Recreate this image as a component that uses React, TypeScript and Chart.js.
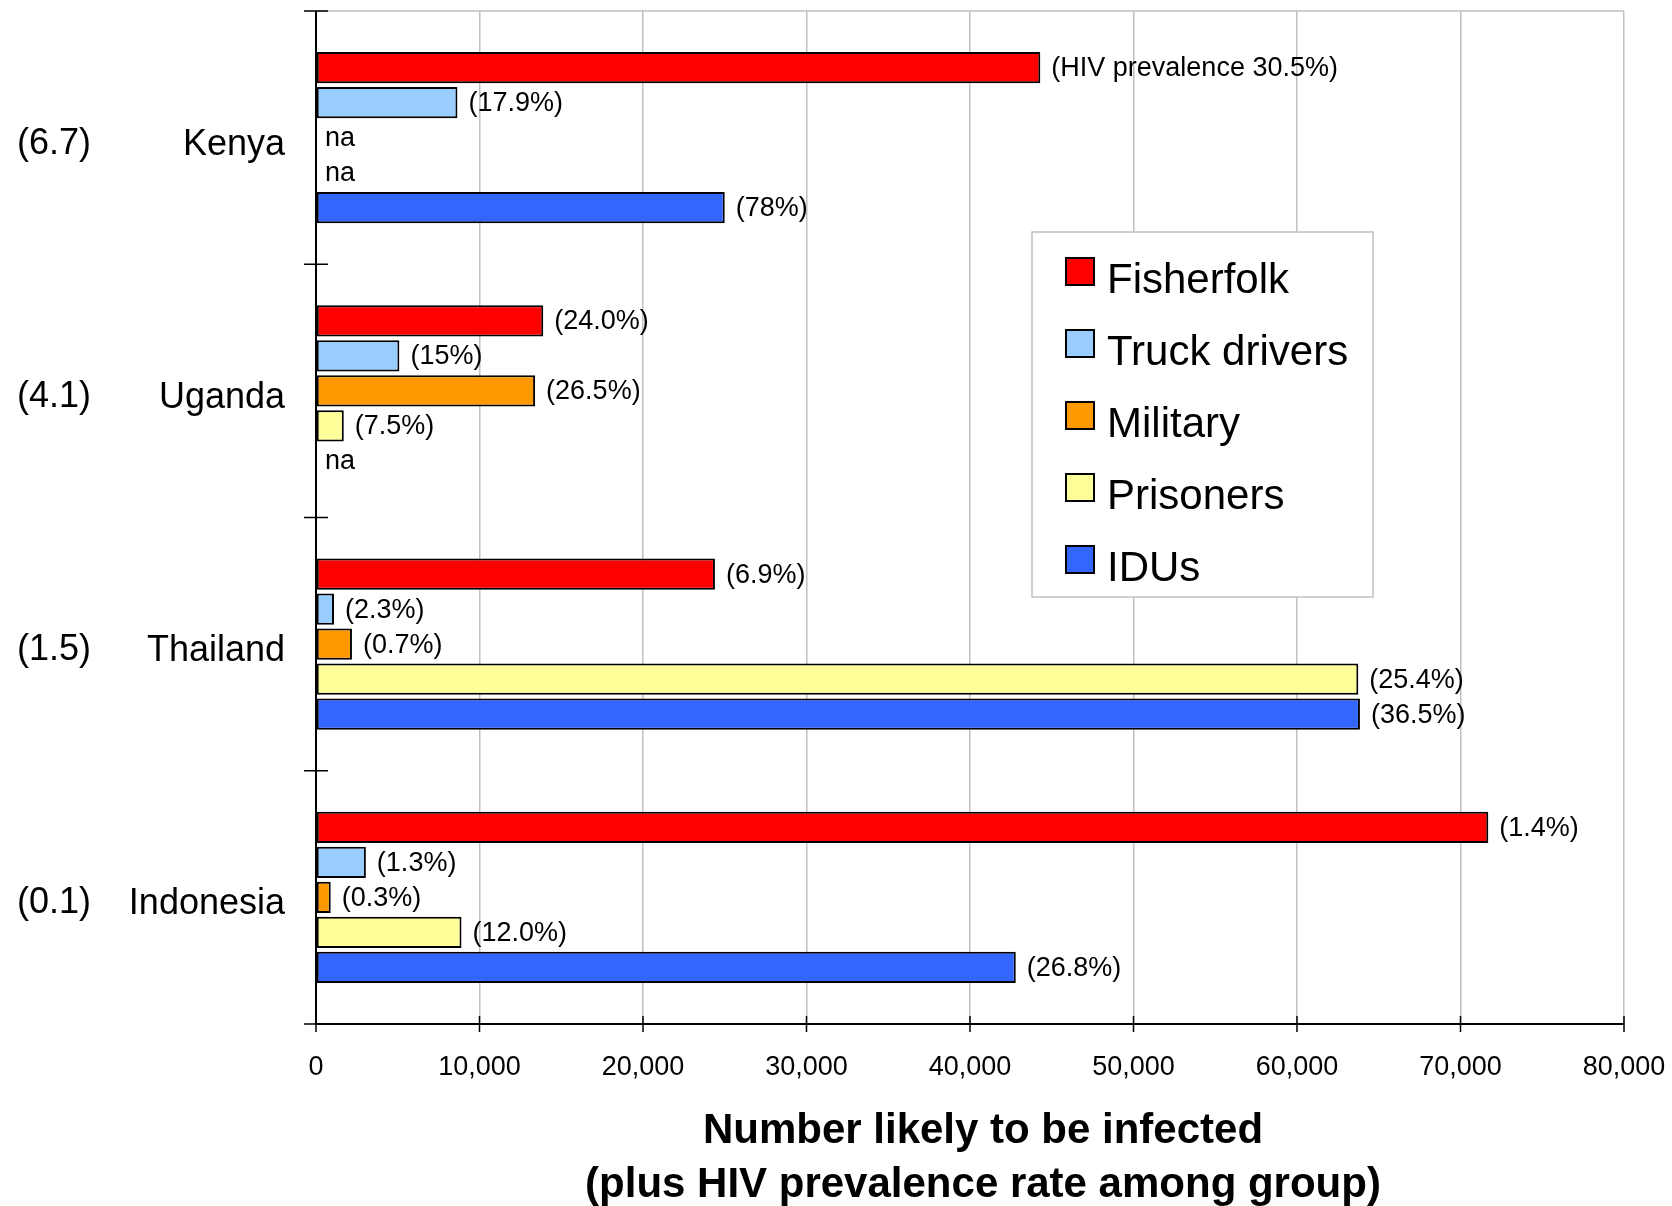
import React, { useEffect, useRef } from "react";
import { Chart, registerables } from "chart.js";

Chart.register(...registerables);

const categories = ["Kenya", "Uganda", "Thailand", "Indonesia"];
const countryPrevalence = ["(6.7)", "(4.1)", "(1.5)", "(0.1)"];

const seriesNames = ["Fisherfolk", "Truck drivers", "Military", "Prisoners", "IDUs"];
const seriesColors = ["#FF0000", "#99CCFF", "#FF9900", "#FFFF99", "#3366FF"];

const fisherfolk = [44300, 13900, 24400, 71700];
const truckDrivers = [8650, 5100, 1100, 3050];
const military = [null, 13400, 2200, 900];
const prisoners = [null, 1700, 63750, 8900];
const idus = [25000, null, 63850, 42800];

const fisherfolkLabels = ["(HIV prevalence 30.5%)", "(24.0%)", "(6.9%)", "(1.4%)"];
const truckLabels = ["(17.9%)", "(15%)", "(2.3%)", "(1.3%)"];
const militaryLabels = ["na", "(26.5%)", "(0.7%)", "(0.3%)"];
const prisonerLabels = ["na", "(7.5%)", "(25.4%)", "(12.0%)"];
const iduLabels = ["(78%)", "na", "(36.5%)", "(26.8%)"];

const xTicksMin = 0;
const xTicksMax = 80000;
const xTickStep = 10000;

const xTitle = ["Number likely to be infected", "(plus HIV prevalence rate among group)"];

const FONT = "'Liberation Sans', Arial, Helvetica, sans-serif";

const seriesValues = [fisherfolk, truckDrivers, military, prisoners, idus];
const seriesLabels = [fisherfolkLabels, truckLabels, militaryLabels, prisonerLabels, iduLabels];

const CAT_PCT = 0.691;
const BAR_PCT = 0.886;

const customPlugin = {
  id: "customDraw",
  afterDatasetsDraw(chart: any) {
    const ctx = chart.ctx;
    const area = chart.chartArea;
    const xs = chart.scales.x;
    const ys = chart.scales.y;
    ctx.save();

    // top gray border
    ctx.strokeStyle = "#c0c0c0";
    ctx.lineWidth = 1.5;
    ctx.beginPath();
    ctx.moveTo(area.left, area.top);
    ctx.lineTo(area.right, area.top);
    ctx.stroke();

    // axes
    ctx.strokeStyle = "#000";
    ctx.lineWidth = 2;
    const x0 = xs.getPixelForValue(0);
    ctx.beginPath();
    ctx.moveTo(x0, area.top);
    ctx.lineTo(x0, area.bottom);
    ctx.moveTo(area.left, area.bottom);
    ctx.lineTo(area.right, area.bottom);
    ctx.stroke();

    // x ticks (crossing)
    ctx.lineWidth = 1.5;
    ctx.beginPath();
    for (let v = xTicksMin; v <= xTicksMax; v += xTickStep) {
      const px = xs.getPixelForValue(v);
      ctx.moveTo(px, area.bottom - 8);
      ctx.lineTo(px, area.bottom + 8);
    }
    // y ticks at category boundaries
    const band = (area.bottom - area.top) / categories.length;
    for (let i = 0; i <= categories.length; i++) {
      const py = area.top + band * i;
      ctx.moveTo(x0 - 12, py);
      ctx.lineTo(x0 + 12, py);
    }
    ctx.stroke();

    // value labels
    ctx.fillStyle = "#000";
    ctx.font = `27px ${FONT}`;
    ctx.textAlign = "left";
    ctx.textBaseline = "middle";
    const slot = (band * CAT_PCT) / seriesNames.length;
    chart.data.datasets.forEach((ds: any, di: number) => {
      const meta = chart.getDatasetMeta(di);
      const labels = seriesLabels[di];
      ds.data.forEach((v: any, i: number) => {
        const el = meta.data[i];
        let cy = el && isFinite(el.y) ? el.y : NaN;
        if (!isFinite(cy)) {
          cy = ys.getPixelForValue(i) + (di - (seriesNames.length - 1) / 2) * slot;
        }
        let lx;
        if (v === null || v === undefined) {
          lx = x0 + 9;
        } else {
          lx = el.x + 11;
        }
        ctx.fillText(labels[i], lx, cy + 1);
      });
    });

    // country prevalence labels
    ctx.font = `36px ${FONT}`;
    ctx.textAlign = "center";
    categories.forEach((_, i) => {
      const py = ys.getPixelForValue(i);
      ctx.fillText(countryPrevalence[i], 54, py + 6);
    });

    // axis title
    ctx.font = `bold 42px ${FONT}`;
    ctx.textAlign = "center";
    ctx.textBaseline = "middle";
    const tx = (area.left + area.right) / 2 + 13;
    xTitle.forEach((line, i) => {
      ctx.fillText(line, tx, 1131 + i * 54);
    });

    // legend
    const lx = 1032, ly = 232, lw = 341, lh = 365;
    ctx.fillStyle = "#fff";
    ctx.fillRect(lx, ly, lw, lh);
    ctx.strokeStyle = "#c0c0c0";
    ctx.lineWidth = 1.5;
    ctx.strokeRect(lx, ly, lw, lh);
    ctx.font = `42px ${FONT}`;
    ctx.textAlign = "left";
    ctx.textBaseline = "alphabetic";
    seriesNames.forEach((name, i) => {
      const sy = 258 + i * 72;
      ctx.fillStyle = seriesColors[i];
      ctx.fillRect(1066, sy, 28, 27);
      ctx.strokeStyle = "#000";
      ctx.lineWidth = 2;
      ctx.strokeRect(1066, sy, 28, 27);
      ctx.fillStyle = "#000";
      ctx.fillText(name, 1107, sy + 35);
    });

    ctx.restore();
  },
};

export default function App() {
  const canvasRef = useRef<HTMLCanvasElement | null>(null);

  useEffect(() => {
    if (!canvasRef.current) return;
    const chart = new Chart(canvasRef.current, {
      type: "bar",
      data: {
        labels: categories,
        datasets: seriesNames.map((name, i) => ({
          label: name,
          data: seriesValues[i] as any,
          backgroundColor: seriesColors[i],
          borderColor: "#000",
          borderWidth: 2,
          borderSkipped: false,
          categoryPercentage: CAT_PCT,
          barPercentage: BAR_PCT,
        })),
      },
      options: {
        indexAxis: "y",
        responsive: false,
        animation: false,
        layout: { padding: { top: 11, right: 48, left: 0, bottom: 0 } },
        plugins: {
          legend: { display: false },
          tooltip: { enabled: false },
        },
        scales: {
          x: {
            type: "linear",
            min: xTicksMin,
            max: xTicksMax,
            afterFit: (s: any) => {
              s.height = 182;
              s.paddingLeft = 0;
              s.paddingRight = 0;
            },
            grid: {
              color: "#c0c0c0",
              lineWidth: 1.5,
              drawTicks: false,
            },
            border: { display: false },
            ticks: {
              stepSize: xTickStep,
              padding: 27,
              color: "#000",
              font: { size: 27, family: FONT },
              maxRotation: 0,
              callback: (v: any) => Number(v).toLocaleString("en-US"),
            },
            title: { display: false },
          },
          y: {
            type: "category",
            afterFit: (s: any) => {
              s.width = 316;
              s.paddingTop = 0;
              s.paddingBottom = 0;
            },
            grid: { display: false, drawTicks: false },
            border: { display: false },
            ticks: {
              padding: 31,
              labelOffset: 7,
              color: "#000",
              font: { size: 36, family: FONT },
            },
          },
        },
      },
      plugins: [customPlugin],
    });
    return () => chart.destroy();
  }, []);

  return (
    <div style={{ position: "fixed", left: 0, top: 0, width: 1672, height: 1206, background: "#fff" }}>
      <canvas ref={canvasRef} width={1672} height={1206} style={{ display: "block" }} />
    </div>
  );
}
